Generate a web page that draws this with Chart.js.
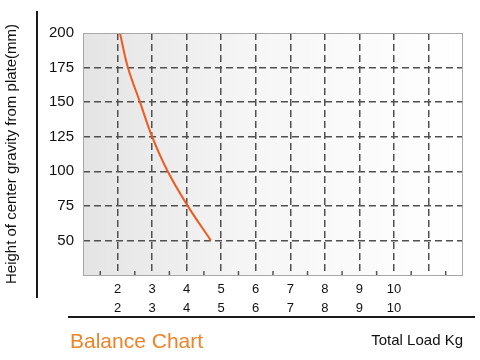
<!DOCTYPE html>
<html>
<head>
<meta charset="utf-8">
<script src="https://cdn.jsdelivr.net/npm/chart.js@4.4.0/dist/chart.umd.min.js"></script>
<style>
  html, body { margin: 0; padding: 0; background: #fff; }
  #wrap { width: 480px; height: 360px; position: relative; }
</style>
</head>
<body>
<div id="wrap"><canvas id="balance"></canvas></div>
<script>
// load (kg) vs height of center of gravity (mm)
var loadKg = [2.07, 2.3, 2.65, 3.0, 3.45, 4.03, 4.7];
var heightMm = [200, 175, 150, 125, 100, 75, 50];
var xLabels = [2, 3, 4, 5, 6, 7, 8, 9, 10];
var yLabels = [50, 75, 100, 125, 150, 175, 200];

var FONT = '"Liberation Sans", Arial, sans-serif';

var points = loadKg.map(function(x, i) { return {x: x, y: heightMm[i]}; });

var decor = {
  id: 'decor',
  beforeDraw: function(chart) {
    var ctx = chart.ctx, a = chart.chartArea;
    var g = ctx.createLinearGradient(a.left, 0, a.right, 0);
    g.addColorStop(0, '#e4e4e4');
    g.addColorStop(0.45, '#f6f6f6');
    g.addColorStop(1, '#ffffff');
    ctx.save();
    ctx.fillStyle = g;
    ctx.fillRect(a.left, a.top, a.right - a.left, a.bottom - a.top);
    ctx.restore();
  },
  afterDatasetsDraw: function(chart) {
    var ctx = chart.ctx, a = chart.chartArea, xs = chart.scales.x;
    ctx.save();
    // frame
    ctx.strokeStyle = '#a8a8a8';
    ctx.lineWidth = 1;
    ctx.strokeRect(a.left + 0.5, a.top + 0.5, a.right - a.left - 1, a.bottom - a.top);
    // minor ticks at half steps
    ctx.strokeStyle = '#555';
    ctx.lineWidth = 1.5;
    for (var v = 1.5; v < 12; v += 1) {
      var px = xs.getPixelForValue(v);
      ctx.beginPath();
      ctx.moveTo(px, a.bottom);
      ctx.lineTo(px, a.bottom - 4);
      ctx.stroke();
    }
    // outer axis lines
    ctx.strokeStyle = '#1a1a1a';
    ctx.lineWidth = 2;
    ctx.beginPath();
    ctx.moveTo(37, 11);
    ctx.lineTo(37, 298);
    ctx.moveTo(68, 317);
    ctx.lineTo(475, 317);
    ctx.stroke();
    // caption
    ctx.fillStyle = '#f08228';
    ctx.font = '21px ' + FONT;
    ctx.textBaseline = 'middle';
    ctx.textAlign = 'left';
    ctx.fillText('Balance Chart', 70, 342);
    ctx.restore();
  }
};

new Chart(document.getElementById('balance'), {
  type: 'line',
  data: {
    datasets: [{
      data: points,
      borderColor: '#f05a1e',
      borderWidth: 2,
      pointRadius: 0,
      tension: 0.4,
      fill: false
    }]
  },
  options: {
    responsive: true,
    maintainAspectRatio: false,
    animation: false,
    layout: { padding: { left: 0, top: 33, right: 17, bottom: 0 } },
    plugins: { legend: { display: false }, tooltip: { enabled: false } },
    scales: {
      x: {
        type: 'linear',
        min: 1,
        max: 12,
        afterFit: function(s) { s.height = 85; },
        border: { display: false, dash: [7, 4] },
        grid: {
          drawTicks: false,
          lineWidth: 1.5,
          color: function(c) {
            var v = c.tick && c.tick.value;
            return (v <= 1 || v >= 12) ? 'rgba(0,0,0,0)' : '#505050';
          }
        },
        ticks: {
          stepSize: 1,
          autoSkip: false,
          maxRotation: 0,
          padding: 5,
          color: '#111',
          font: { family: FONT, size: 13, lineHeight: '19px' },
          callback: function(v) {
            return xLabels.indexOf(v) >= 0 ? [String(v), String(v)] : '';
          }
        },
        title: {
          display: true,
          text: 'Total Load Kg',
          align: 'end',
          color: '#111',
          font: { family: FONT, size: 15 },
          padding: { top: 0, bottom: 10 }
        }
      },
      y: {
        min: 25,
        max: 200,
        afterFit: function(s) { s.width = 83; },
        border: { display: false, dash: [7, 4] },
        grid: {
          drawTicks: false,
          lineWidth: 1.5,
          color: function(c) {
            var v = c.tick && c.tick.value;
            return (v <= 25 || v >= 200) ? 'rgba(0,0,0,0)' : '#505050';
          }
        },
        ticks: {
          stepSize: 25,
          padding: 9,
          color: '#111',
          font: { family: FONT, size: 15 },
          callback: function(v) { return yLabels.indexOf(v) >= 0 ? String(v) : ''; }
        },
        title: {
          display: true,
          text: 'Height of center gravity from plate(mm)',
          color: '#111',
          font: { family: FONT, size: 15 },
          padding: { top: 3, bottom: 0 }
        }
      }
    }
  },
  plugins: [decor]
});
</script>
</body>
</html>
